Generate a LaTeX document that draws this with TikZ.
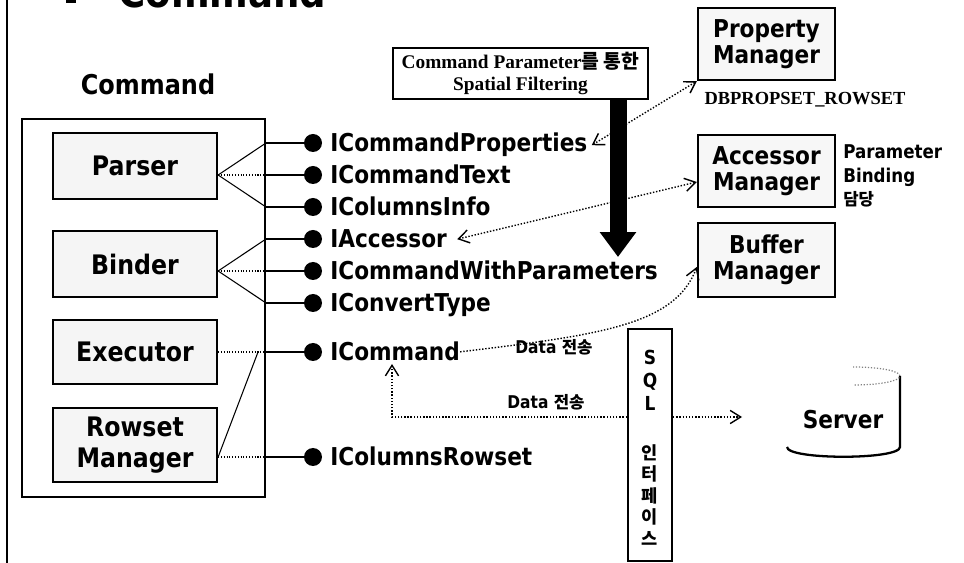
\documentclass[tikz,border=0pt]{standalone}
\usepackage{fontspec}
\setmainfont{DejaVu Sans}[FakeStretch=0.88]
\newfontfamily\krfont{Noto Sans CJK KR}
\newfontfamily\serfont{Liberation Serif}
\usetikzlibrary{arrows.meta,calc}

\tikzset{
  unitbox/.style={draw, line width=1.3pt, fill=gray!8, inner sep=0pt, align=center,
    minimum width=3.28cm, font=\bfseries\fontsize{15.3}{17.5}\selectfont},
  mgrbox/.style={draw, line width=1.4pt, fill=gray!6, inner sep=0pt, align=center,
    minimum width=2.74cm, font=\bfseries\fontsize{14}{14.5}\selectfont},
  ifdot/.style={circle, fill=black, inner sep=0pt, minimum size=0.36cm},
  iflabel/.style={anchor=base west, inner sep=0pt, font=\bfseries\fontsize{14}{16}\selectfont},
  stub/.style={line width=1.3pt},
  link/.style={line width=0.6pt},
  dlink/.style={line width=0.6pt, densely dotted},
  flow/.style={line width=0.8pt, densely dotted},
  note/.style={inner sep=0pt, font=\bfseries\fontsize{10}{12}\selectfont},
}

\begin{document}
\begin{tikzpicture}[x=0.02cm, y=-0.02cm, >={Straight Barb[length=6pt,width=7.5pt]}]
\useasboundingbox (0,0) rectangle (964,563);

% page edge and the heading cut off at the top
\draw[line width=1.6pt] (7,0) -- (7,563);
\begin{scope}
  \clip (0,0) rectangle (964,563);
  \fill (66,-6) rectangle (76,3);
  \node[anchor=base west, inner sep=0pt, font=\bfseries\fontsize{24}{24}\selectfont] (title) at (118,8) {Command};
\end{scope}

% Command component and its parts
\node[anchor=base, inner sep=0pt, font=\bfseries\fontsize{15.5}{17}\selectfont] (cmdtitle) at (148,95) {Command};
\node[draw, line width=1.2pt, minimum width=4.86cm, minimum height=7.56cm, inner sep=0pt] (cmdbox) at (143.5,308) {};
\node[unitbox, minimum height=1.32cm] (parser) at (135,166) {Parser};
\node[unitbox, minimum height=1.32cm] (binder) at (135,264) {Binder};
\node[unitbox, minimum height=1.28cm] (executor) at (135,352) {Executor};
\node[unitbox, minimum height=1.48cm] (rowset) at (135,445) {Rowset\\Manager};

% exposed interfaces
\foreach \n/\y/\t in {1/143/ICommandProperties, 2/175/ICommandText, 3/207/IColumnsInfo,
                      4/239/IAccessor, 5/271/ICommandWithParameters, 6/303/IConvertType,
                      7/352/ICommand, 8/457/IColumnsRowset} {
  \node[ifdot] (d\n) at (313,\y) {};
  \node[iflabel] (l\n) at (330,\y+9) {\t};
  \draw[stub] (cmdbox.east |- d\n) -- (d\n);
}

% parts to interfaces
\draw[link]  (parser.east |- d2) -- (cmdbox.east |- d1);
\draw[dlink] (parser.east |- d2) -- (cmdbox.east |- d2);
\draw[link]  (parser.east |- d2) -- (cmdbox.east |- d3);
\draw[link]  (binder.east |- d5) -- (cmdbox.east |- d4);
\draw[dlink] (binder.east |- d5) -- (cmdbox.east |- d5);
\draw[link]  (binder.east |- d5) -- (cmdbox.east |- d6);
\draw[dlink] (executor.east) -- (cmdbox.east |- d7);
\draw[dlink] (rowset.east |- d8) -- (cmdbox.east |- d8);
\draw[link]  (rowset.east |- d8) -- ($(cmdbox.east |- d7)+(-8,0)$);

% spatial filtering through command parameters
\node[draw, line width=0.9pt, minimum width=5.1cm, minimum height=1.02cm, inner sep=0pt, align=center,
      font=\serfont\bfseries\fontsize{11}{13}\selectfont] (filter) at (520.5,73.5)
      {Command Parameter{\krfont\bfseries 를 통한}\\Spatial Filtering};
\coordinate (bartip) at (618,257);
\draw[line width=0.34cm, -{Triangle[width=0.7cm,length=0.5cm]}] (filter.south -| bartip) -- (bartip);

% managers
\node[mgrbox, minimum height=1.44cm] (pm) at (766.5,44) {Property\\Manager};
\node[mgrbox, minimum height=1.44cm] (am) at (766.5,171) {Accessor\\Manager};
\node[mgrbox, minimum height=1.48cm] (bm) at (766.5,260) {Buffer\\Manager};
\node[inner sep=0pt, font=\serfont\bfseries\fontsize{10.5}{12}\selectfont] (dbprop) at (805,100) {DBPROPSET\_ROWSET};
\node[anchor=west, align=left, inner sep=0pt, font=\bfseries\fontsize{10.8}{13.6}\selectfont] (pbind) at (843,176)
      {Parameter\\Binding\\{\krfont\bfseries\fontsize{9.5}{13.6}\selectfont 담당}};

\draw[flow, <->] ([xshift=0.08cm]l1.east) -- (pm.south west);
\draw[flow, <->] ([xshift=0.2cm]l4.east) -- ([yshift=-0.22cm]am.west);
\draw[flow, ->] (l7.east) .. controls (600,335) and (675,325) .. ([yshift=-0.14cm]bm.west);

% SQL interface
\node[draw, line width=1.2pt, minimum width=0.88cm, minimum height=4.64cm, inner sep=0pt] (sql) at (650,445) {};
\node[align=center, inner sep=0pt, font=\bfseries\fontsize{11}{13}\selectfont] (sqltop) at (650,380) {S\\Q\\L};
\node[align=center, inner sep=0pt, font=\krfont\bfseries\fontsize{10}{12.2}\selectfont] (sqlbot) at (650,495) {인\\터\\페\\이\\스};

% server
\draw[line width=1.3pt] (900,376) -- (900,447) .. controls (900,460) and (787,460) .. (787,447);
\draw[line width=0.7pt, densely dotted, gray] (853,367) .. controls (880,367) and (900,371) .. (900,376)
      .. controls (900,381) and (880,385) .. (853,385);
\node[inner sep=0pt, font=\bfseries\fontsize{14}{16}\selectfont] (server) at (843,420) {Server};

% data transfer
\coordinate (srvin) at (742,417);
\coordinate (cmdup) at (392,364);
\draw[flow, ->] (sql.east |- srvin) -- (srvin);
\draw[flow, ->] (sql.west |- srvin) -| (cmdup);
\node[note] (data1) at (554,347) {Data {\krfont\bfseries\fontsize{9.5}{12}\selectfont 전송}};
\node[note] (data2) at (546,402) {Data {\krfont\bfseries\fontsize{9.5}{12}\selectfont 전송}};
\end{tikzpicture}
\end{document}
